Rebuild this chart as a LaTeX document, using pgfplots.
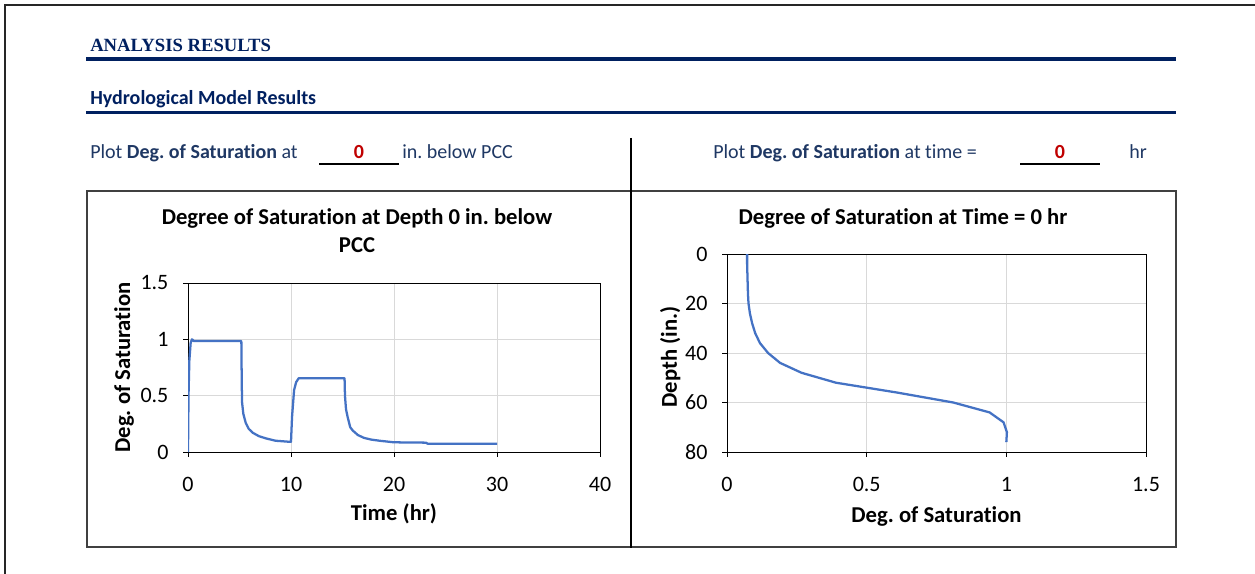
\documentclass[border=0pt]{standalone}
\usepackage{pgfplots}
\pgfplotsset{compat=1.18}
\usepackage{fontspec}
\setmainfont{Carlito}[Ligatures=NoCommon]
\newfontfamily\timesfont{Liberation Serif}
\frenchspacing

\definecolor{navy}{HTML}{002060}
\definecolor{navytext}{HTML}{1F3864}
\definecolor{excelred}{HTML}{C00000}
\definecolor{seriesblue}{HTML}{4472C4}
\definecolor{gridgray}{HTML}{D9D9D9}

% Degree of saturation vs. time at the surface (0 in. below PCC)
\pgfplotstableread{
t      S
0      0
0.05   0.50
0.13   0.81
0.26   0.97
0.39   1.00
0.55   0.985
5.18   0.985
5.22   0.60
5.25   0.44
5.37   0.34
5.60   0.26
5.90   0.205
6.30   0.17
6.90   0.14
7.60   0.12
8.50   0.10
9.95   0.09
10.00  0.09
10.10  0.31
10.30  0.55
10.50  0.62
10.75  0.655
15.20  0.655
15.24  0.50
15.34  0.38
15.50  0.31
15.75  0.22
16.00  0.19
16.50  0.15
17.10  0.125
17.80  0.11
18.60  0.10
20.00  0.086
23.10  0.083
23.25  0.074
30.00  0.074
}\timeseries

% Degree of saturation profile with depth at time 0 hr
\pgfplotstableread{
S      depth
0.072  0
0.072  4
0.073  8
0.074  12
0.075  16
0.077  20
0.082  24
0.090  28
0.101  32
0.118  36
0.147  40
0.190  44
0.267  48
0.390  52
0.610  56
0.810  60
0.940  64
0.990  68
1.002  72
1.000  76
}\depthprofile

\pgfplotsset{
  excelchart/.style={
    scale only axis,
    axis line style={black, line width=0.75pt},
    grid=major,
    major grid style={gridgray, line width=0.75pt},
    tick align=outside,
    major tick length=3.5pt,
    tick style={black, line width=0.75pt},
    tick pos=left,
    tick label style={font=\fontsize{16.5}{18}\selectfont, inner sep=0pt},
    /pgf/number format/assume math mode=true,
    label style={font=\bfseries\fontsize{17}{20}\selectfont},
    yticklabel shift=11pt,
    xticklabel shift=15pt,
  },
}

\begin{document}
\begin{tikzpicture}
% page furniture, laid out on a 0.75pt grid measured from the top-left corner
\begin{scope}[x=0.75pt,y=-0.75pt]
\useasboundingbox (0,0) rectangle (1255,574);
\fill[white] (0,0) rectangle (1255,574);

% page frame
\draw[black!85, line width=1.5pt] (5,574) -- (5,5) -- (1255,5);

% section headings
\node[anchor=base west, inner sep=0pt, text=navy,
      font=\timesfont\bfseries\fontsize{14}{16}\selectfont] at (90,52) {ANALYSIS RESULTS};
\fill[navy] (86,57.5) rectangle (1176,61);
\node[anchor=base west, inner sep=0pt, text=navy,
      font=\bfseries\fontsize{15}{17}\selectfont] at (90,105) {Hydrological Model Results};
\fill[navy] (86,111) rectangle (1176,114.5);

% input rows
\begin{scope}[every node/.style={inner sep=0pt, font=\fontsize{15}{17}\selectfont}]
\node[anchor=base west, text=navytext] at (90,159) {Plot \textbf{Deg. of Saturation} at};
\node[anchor=base, text=excelred, font=\bfseries\fontsize{15}{17}\selectfont] at (359,159) {0};
\draw[black, line width=1.2pt] (319,164) -- (399,164);
\node[anchor=base west, text=navytext] at (402,159) {in. below PCC};

\node[anchor=base west, text=navytext] at (713,159) {Plot \textbf{Deg. of Saturation} at time =};
\node[anchor=base, text=excelred, font=\bfseries\fontsize{15}{17}\selectfont] at (1060,159) {0};
\draw[black, line width=1.2pt] (1020,164) -- (1100,164);
\node[anchor=base west, text=navytext] at (1129,159) {hr};
\end{scope}

% chart frames and divider
\draw[black!75, line width=1pt] (87,191) rectangle (631,547);
\draw[black!75, line width=1pt] (631,191) rectangle (1176,547);
\draw[black, line width=1.5pt] (631,138) -- (631,548);

% chart titles
\node[inner sep=0pt, font=\bfseries\fontsize{17}{20}\selectfont,
      anchor=base] at (357,224) {Degree of Saturation at Depth 0 in. below};
\node[inner sep=0pt, font=\bfseries\fontsize{17}{20}\selectfont,
      anchor=base] at (357,252) {PCC};
\node[inner sep=0pt, font=\bfseries\fontsize{17}{20}\selectfont,
      anchor=base] at (903,224) {Degree of Saturation at Time = 0 hr};
\end{scope}

% saturation vs. time
\begin{axis}[excelchart,
  at={(141pt,-339pt)}, anchor=south west,
  width=309pt, height=126.75pt,
  xmin=0, xmax=40, ymin=0, ymax=1.5,
  xtick={0,10,20,30,40}, ytick={0,0.5,1,1.5},
  xlabel={Time (hr)}, ylabel={Deg. of Saturation},
  xlabel style={at={(axis description cs:0.5,-0.367)}, anchor=center},
  ylabel style={at={(axis description cs:-0.155,0.5)}, anchor=center},
]
\addplot[seriesblue, line width=1.7pt, line join=round] table[x=t, y=S] {\timeseries};
\end{axis}

% saturation profile with depth
\begin{axis}[excelchart,
  at={(545.25pt,-339pt)}, anchor=south west,
  width=314.25pt, height=148.5pt,
  xmin=0, xmax=1.5, ymin=0, ymax=80,
  y dir=reverse,
  xtick={0,0.5,1,1.5}, ytick={0,20,40,60,80},
  xlabel={Deg. of Saturation}, ylabel={Depth (in.)},
  xlabel style={at={(ticklabel cs:0.5)}, anchor=north, yshift=-7.5pt},
  ylabel style={at={(ticklabel cs:0.5)}, anchor=south, xshift=-3pt},
]
\addplot[seriesblue, line width=1.7pt, line join=round] table[x=S, y=depth] {\depthprofile};
\end{axis}
\end{tikzpicture}
\end{document}
